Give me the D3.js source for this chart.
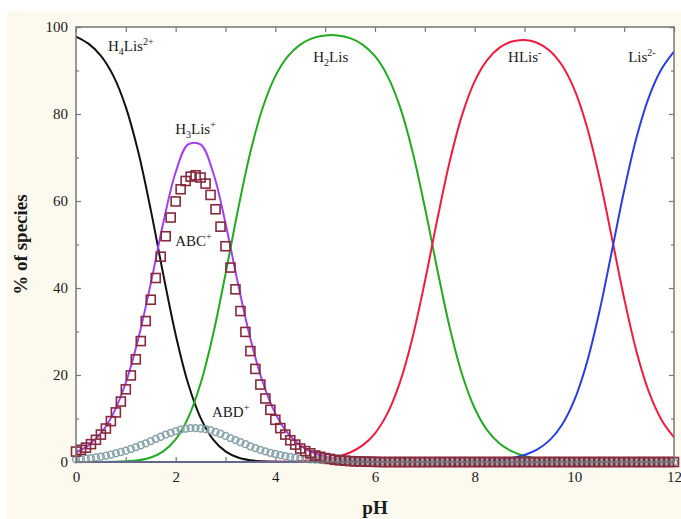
<!DOCTYPE html>
<html><head><meta charset="utf-8">
<script src="https://cdn.jsdelivr.net/npm/d3@7"></script>
<style>body{margin:0;background:#fff;overflow:hidden}</style>
</head><body><svg id="c" width="681" height="519"></svg>
<script>
// ---------- data ----------
const linePH = [0,0.25,0.5,0.75,1,1.25,1.5,1.75,2,2.25,2.5,2.75,3,3.25,3.5,3.75,4,4.25,4.5,4.75,
  5,5.25,5.5,5.75,6,6.25,6.5,6.75,7,7.25,7.5,7.75,8,8.25,8.5,8.75,9,9.25,9.5,9.75,
  10,10.25,10.5,10.75,11,11.25,11.5,11.75,12];
const H4Lis = [97.81,96.17,93.37,88.77,81.59,71.24,57.95,43.19,29.27,18.04,10.14,5.21,2.43,1.03,0.40,0.15,0.05,0.02,0.01,0,
  0,0,0,0,0,0,0,0,0,0,0,0,0,0,0,0,0,0,0,0,
  0,0,0,0,0,0,0,0,0];
const H3Lis = [2.19,3.83,6.61,11.18,18.27,28.36,41.02,54.9,66.6,73.0,73.0,66.6,54.9,41.02,28.36,18.27,11.18,6.61,3.83,2.18,
  1.23,0.69,0.39,0.21,0.12,0.06,0.03,0.02,0.01,0,0,0,0,0,0,0,0,0,0,0,
  0,0,0,0,0,0,0,0,0];
const H2Lis = [0,0.01,0.02,0.05,0.15,0.40,1.03,2.43,5.20,10.14,18.04,29.27,43.19,57.94,71.24,81.56,88.71,93.25,95.96,97.43,
  98.07,98.07,97.43,95.96,93.28,88.76,81.68,71.52,58.55,44.27,30.88,20.06,12.36,7.34,4.25,2.43,1.37,0.77,0.42,0.23,
  0.12,0.06,0.03,0.02,0.01,0,0,0,0];
const HLis = [0,0,0,0,0,0,0,0,0,0,0,0,0,0.01,0.01,0.03,0.06,0.12,0.21,0.39,
  0.69,1.23,2.18,3.82,6.60,11.17,18.29,28.47,41.45,55.73,69.12,79.86,87.50,92.39,95.25,96.67,97.02,96.39,94.61,91.25,
  85.66,77.17,65.56,51.73,37.60,25.31,16.00,9.68,5.68];
const Lis = [0,0,0,0,0,0,0,0,0,0,0,0,0,0,0,0,0,0,0,0,
  0,0,0,0,0,0,0,0,0,0.02,0.04,0.07,0.15,0.27,0.50,0.90,1.61,2.84,4.97,8.52,
  14.22,22.77,34.41,48.27,62.40,74.69,84.00,90.32,94.32];

const markerPH = [0,0.1,0.2,0.3,0.4,0.5,0.6,0.7,0.8,0.9,1,1.1,1.2,1.3,1.4,1.5,1.6,1.7,1.8,1.9,
  2,2.1,2.2,2.3,2.4,2.5,2.6,2.7,2.8,2.9,3,3.1,3.2,3.3,3.4,3.5,3.6,3.7,3.8,3.9,
  4,4.1,4.2,4.3,4.4,4.5,4.6,4.7,4.8,4.9,5,5.1,5.2,5.3,5.4,5.5,5.6,5.7,5.8,5.9,
  6,6.1,6.2,6.3,6.4,6.5,6.6,6.7,6.8,6.9,7,7.1,7.2,7.3,7.4,7.5,7.6,7.7,7.8,7.9,
  8,8.1,8.2,8.3,8.4,8.5,8.6,8.7,8.8,8.9,9,9.1,9.2,9.3,9.4,9.5,9.6,9.7,9.8,9.9,
  10,10.1,10.2,10.3,10.4,10.5,10.6,10.7,10.8,10.9,11,11.1,11.2,11.3,11.4,11.5,11.6,11.7,11.8,11.9,12];
const ABC = [2.4,2.8,3.3,4.1,5.1,6.3,7.7,9.4,11.4,13.9,16.7,19.9,23.6,27.8,32.4,37.3,42.3,47.2,51.9,56.2,
  59.9,62.7,64.6,65.6,65.9,65.4,64.0,61.4,58.1,54.1,49.6,44.7,39.7,34.7,29.9,25.5,21.4,17.8,14.6,12.0,
  9.7,7.8,6.3,5.0,4.0,3.1,2.5,2.0,1.5,1.2,0.9,0.7,0.5,0.4,0.3,0.2,0.15,0.1,0.1,0.05,
  0.05,0,0,0,0,0,0,0,0,0,0,0,0,0,0,0,0,0,0,0,
  0,0,0,0,0,0,0,0,0,0,0,0,0,0,0,0,0,0,0,0,
  0,0,0,0,0,0,0,0,0,0,0,0,0,0,0,0,0,0,0,0,0];
const ABD = [0.6,0.68,0.78,0.9,1.05,1.25,1.45,1.7,2.0,2.3,2.6,3.0,3.4,3.85,4.3,4.8,5.3,5.8,6.3,6.7,
  7.1,7.45,7.65,7.8,7.8,7.7,7.55,7.3,6.9,6.5,6.0,5.5,5.05,4.55,4.1,3.6,3.2,2.8,2.45,2.1,
  1.85,1.6,1.35,1.15,1.0,0.85,0.72,0.62,0.55,0.48,0.42,0.37,0.32,0.28,0.24,0.21,0.18,0.15,0.13,0.11,
  0.1,0.09,0.08,0.07,0.06,0.05,0.05,0.04,0.04,0.03,0.03,0,0,0,0,0,0,0,0,0,
  0,0,0,0,0,0,0,0,0,0,0,0,0,0,0,0,0,0,0,0,
  0,0,0,0,0,0,0,0,0,0,0,0,0,0,0,0,0,0,0,0,0];

const xTicks = [0,1,2,3,4,5,6,7,8,9,10,11,12];
const xLabels = [0,2,4,6,8,10,12];
const yTicks = [0,10,20,30,40,50,60,70,80,90,100];
const yLabels = [0,20,40,60,80,100];

// annotation texts: [base, sub, rest, sup]
const speciesLabels = [
  {parts:["H","4","Lis","2+"], at:[0.64,94.5]},
  {parts:["H","3","Lis","+"],  at:[1.99,75.4]},
  {parts:["H","2","Lis",""],   at:[4.76,92.0]},
  {parts:["HLis","","","-"],   at:[8.67,92.0]},
  {parts:["Lis","","","2-"],   at:[11.08,92.0]},
  {parts:["ABC","","","+"],    at:[1.99,49.6]},
  {parts:["ABD","","","+"],    at:[2.73,10.3]}
];

// ---------- layout ----------
const W = 681, H = 519;
const svg = d3.select('#c');
const x = d3.scaleLinear().domain([0,12]).range([76,674]);
const y = d3.scaleLinear().domain([0,100]).range([462,27]);
const serif = "'Liberation Serif','Times New Roman',serif";

svg.append('rect').attr('x',7).attr('y',11).attr('width',W-7).attr('height',H-11).attr('fill','#fcf9ee');
svg.append('rect').attr('x',x(0)).attr('y',y(100)).attr('width',x(12)-x(0)).attr('height',y(0)-y(100))
  .attr('fill','#fff');

// axes (ticks inward)
function styleAxis(g){
  g.select('.domain').remove();
  g.selectAll('.tick line').attr('stroke','#777').attr('stroke-width',1.2);
  g.selectAll('.tick text').attr('font-family',serif).attr('font-size',15).attr('fill','#1a1a1a');
}
const fmtX = d => xLabels.includes(d) ? d : '';
const fmtY = d => yLabels.includes(d) ? d : '';
svg.append('g').attr('transform',`translate(0,${y(0)})`)
  .call(d3.axisBottom(x).tickValues(xTicks).tickFormat(fmtX).tickSizeInner(-5).tickSizeOuter(0).tickPadding(9))
  .call(styleAxis);
svg.append('g').attr('transform',`translate(0,${y(100)})`)
  .call(d3.axisTop(x).tickValues(xTicks).tickFormat('').tickSizeInner(-5).tickSizeOuter(0))
  .call(styleAxis);
const yl = svg.append('g').attr('transform',`translate(${x(0)},0)`)
  .call(d3.axisLeft(y).tickValues(yTicks).tickFormat(fmtY).tickSizeInner(-5).tickSizeOuter(0).tickPadding(8))
  .call(styleAxis);
yl.selectAll('.tick line').attr('x2', d => yLabels.includes(d) ? 5 : 3);
const yr = svg.append('g').attr('transform',`translate(${x(12)},0)`)
  .call(d3.axisRight(y).tickValues(yTicks).tickFormat('').tickSizeInner(-5).tickSizeOuter(0))
  .call(styleAxis);
yr.selectAll('.tick line').attr('x2', d => yLabels.includes(d) ? -5 : -3);

const plot = svg.append('g');

// lines
const series = [
  {name:'H4Lis', vals:H4Lis, color:'#111111'},
  {name:'H3Lis', vals:H3Lis, color:'#a040f4'},
  {name:'H2Lis', vals:H2Lis, color:'#22aa22'},
  {name:'HLis',  vals:HLis,  color:'#ee1d3f'},
  {name:'Lis',   vals:Lis,   color:'#2a3ee0'}
];
const line = d3.line().x(d=>x(d[0])).y(d=>y(d[1])).curve(d3.curveCatmullRom.alpha(0.5));
plot.selectAll('path.sp').data(series).join('path').attr('class','sp')
  .attr('d', s => line(linePH.map((p,i)=>[p,s.vals[i]])))
  .attr('fill','none').attr('stroke',s=>s.color).attr('stroke-width',2);

// markers
plot.selectAll('circle.abd').data(markerPH.map((p,i)=>[p,ABD[i]])).join('circle')
  .attr('class','abd').attr('cx',d=>x(d[0])).attr('cy',d=>y(d[1])).attr('r',3.4)
  .attr('fill','none').attr('stroke','#86a2aa').attr('stroke-width',1.5);
plot.selectAll('rect.abc').data(markerPH.map((p,i)=>[p,ABC[i]])).join('rect')
  .attr('class','abc').attr('x',d=>x(d[0])-4.5).attr('y',d=>y(d[1])-4.5).attr('width',9).attr('height',9)
  .attr('fill','none').attr('stroke','#862a3c').attr('stroke-width',1.6);

// frame
svg.append('rect').attr('x',x(0)).attr('y',y(100)).attr('width',x(12)-x(0)).attr('height',y(0)-y(100))
  .attr('fill','none').attr('stroke','#777').attr('stroke-width',1.5);

// species labels
speciesLabels.forEach(l => {
  const t = svg.append('text').attr('x',x(l.at[0])).attr('y',y(l.at[1]))
    .attr('font-family',serif).attr('font-size',15).attr('fill','#1a1a1a');
  const [b,sub,rest,sup] = l.parts;
  t.append('tspan').text(b);
  let dy = 0;
  if (sub){ t.append('tspan').attr('font-size',10).attr('dy',4).text(sub); dy = 4; }
  if (rest){ t.append('tspan').attr('dy',-dy).text(rest); dy = 0; }
  if (sup){ t.append('tspan').attr('font-size',10).attr('dy',-6-dy).text(sup); }
});

// axis titles
svg.append('text').attr('x',(x(0)+x(12))/2).attr('y',514).attr('text-anchor','middle')
  .attr('font-family',serif).attr('font-weight','bold').attr('font-size',19).attr('fill','#1a1a1a').text('pH');
svg.append('text').attr('transform',`translate(27,${(y(0)+y(100))/2}) rotate(-90)`).attr('text-anchor','middle')
  .attr('font-family',serif).attr('font-weight','bold').attr('font-size',19).attr('fill','#1a1a1a').text('% of species');
</script>
</body></html>
